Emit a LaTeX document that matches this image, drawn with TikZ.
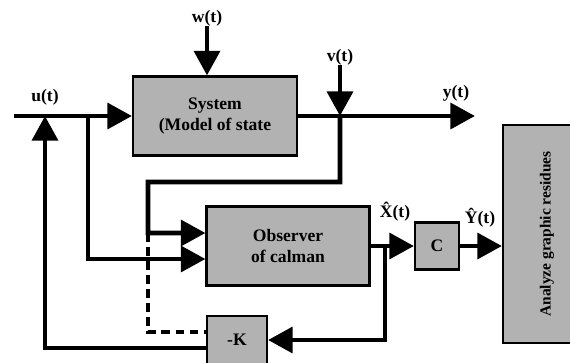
\documentclass[tikz,border=0pt]{standalone}
\usepackage{fontspec}
\setmainfont{Liberation Serif}
\usetikzlibrary{arrows.meta}
\definecolor{blockgray}{RGB}{178,178,178}
\begin{document}
\begin{tikzpicture}[x=0.02cm, y=-0.02cm,
  block/.style={draw, line width=1.2pt, fill=blockgray, align=center, font=\bfseries\fontsize{10}{12}\selectfont},
  sig/.style={line width=2.8pt, -{Triangle[length=14pt,width=14.5pt]}},
  wire/.style={line width=2.8pt},
  lbl/.style={font=\bfseries\fontsize{10}{12}\selectfont, inner sep=0pt}
]
\useasboundingbox (0,0) rectangle (570,362);
\clip (0,0) rectangle (570,362);
\node[block, minimum width=3.28cm, minimum height=1.58cm] (sys) at (215,116) {System\\(Model of state};
\node[block, minimum width=3.26cm, minimum height=1.58cm] (obs) at (288,246) {Observer\\of calman};
\node[block, minimum width=0.88cm, minimum height=0.94cm] (c) at (437,246) {C};
\node[block, minimum width=1.2cm, minimum height=0.96cm] (k) at (237,340) {-K};
\node[block, rotate=90, minimum width=4.36cm, minimum height=1.76cm, font=\bfseries\fontsize{8.8}{10}\selectfont] (res) at (547,234) {Analyze graphic residues};
\node[lbl] (wl) at (207,18) {w(t)};
\node[lbl] (ul) at (45,97) {u(t)};
\node[lbl] (vl) at (340,57) {v(t)};
\node[lbl] (yl) at (456,93) {y(t)};
\node[lbl] (xl) at (395,212) {\^{X}(t)};
\node[lbl] (yhl) at (480,218) {\^{Y}(t)};
\coordinate (in) at (14,116);
\coordinate (uj) at (45,116);
\coordinate (j1) at (88,116);
\coordinate (vj) at (340,116);
\coordinate (yout) at (475,116);
\coordinate (dj) at (148,233);
\coordinate (xj) at (385,246);
\draw[sig] (in) -- (sys.west);
\draw[sig] (wl.south) -- (wl.south |- sys.north);
\draw[sig] (vl.south) -- (vj);
\draw[sig] (sys.east) -- (yout);
\draw[sig] (j1) |- ([yshift=-0.26cm]obs.west);
\draw[sig] (vj) -- (340,182) -| (dj) -- ([yshift=0.26cm]obs.west);
\draw[line width=2.4pt, dash pattern=on 5pt off 3pt] (dj) |- ([yshift=0.16cm]k.west);
\draw[sig] ([yshift=-0.16cm]k.west) -| (uj);
\draw[sig] (obs.east) -- (c.west);
\draw[sig] (xj) |- (k.east);
\draw[sig] (c.east) -- (c.east -| res.north);
\end{tikzpicture}
\end{document}
